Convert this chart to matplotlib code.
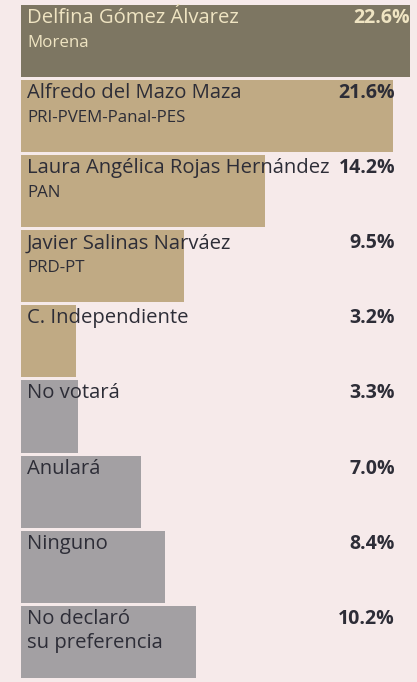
import matplotlib.pyplot as plt

labels = ["Delfina Gómez Álvarez", "Alfredo del Mazo Maza",
          "Laura Angélica Rojas Hernández", "Javier Salinas Narváez",
          "C. Independiente", "No votará", "Anulará", "Ninguno",
          "No declaró\nsu preferencia"]
parties = ["Morena", "PRI-PVEM-Panal-PES", "PAN", "PRD-PT",
           "", "", "", "", ""]
values = [22.6, 21.6, 14.2, 9.5, 3.2, 3.3, 7.0, 8.4, 10.2]

bg = "#f6eaea"
colors = ["#7d7662"] + ["#c0aa84"] * 4 + ["#a3a0a3"] * 4
ink = "#2d2d37"

plt.rcParams['font.family'] = ['Open Sans', 'DejaVu Sans']

fig = plt.figure(figsize=(4.17, 6.82), dpi=100, facecolor=bg)
ax = fig.add_axes([0, 0, 1, 1])
ax.set_facecolor(bg)

rows = range(len(values))
ax.barh(rows, values, height=0.96, left=0, color=colors)

ax.set_xlim(-21 / 17.2, (417 - 21) / 17.2)
ax.set_ylim((682 - 41) / 75.1, -41 / 75.1)
ax.axis("off")

for i, (lab, party, v) in enumerate(zip(labels, parties, values)):
    c = "#efe4c2" if i == 0 else ink
    lines = lab.split("\n")
    for k, line in enumerate(lines):
        ax.text(0.35, i - 0.24 + k * 0.32, line, fontsize=14.6, color=c,
                va="baseline", ha="left")
    if party:
        ax.text(0.35, i + 0.08, party, fontsize=12.2, color=c,
                va="baseline", ha="left")
    ax.text(max(v, 21.75), i - 0.24, f"{v:.1f}%", fontsize=14,
            fontweight="bold", color=c, va="baseline", ha="right")

fig.savefig("out.png", dpi=100, facecolor=bg)
